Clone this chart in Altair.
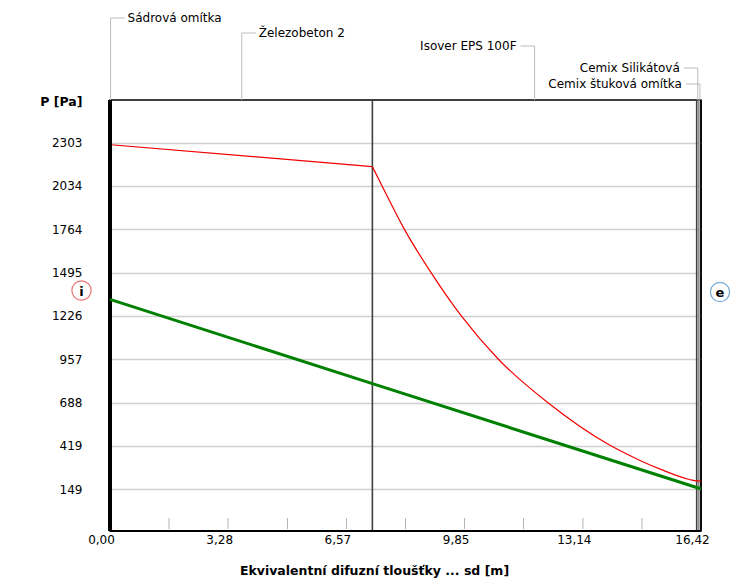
import altair as alt
import pandas as pd

# ---- data ----
sd_red = [0.00, 0.03, 7.29, 7.56, 8.18, 8.92, 9.76, 10.79, 12.16, 13.83, 14.71, 15.36, 16.10, 16.30, 16.42]
p_sat = [2306, 2290, 2154, 2034, 1764, 1495, 1226, 957, 688, 430, 330, 268, 210, 201, 200]

sd_green = [0.00, 7.29, 16.30, 16.42]
p_vap = [1329, 806, 160, 152]

layer_names = ["Sádrová omítka", "Železobeton 2", "Isover EPS 100F", "Cemix Silikátová", "Cemix štuková omítka"]
layer_start = [0.00, 0.03, 7.29, 16.30, 16.36]
layer_end = [0.03, 7.29, 16.30, 16.36, 16.42]
label_side = ["right", "right", "left", "left", "left"]

x_ticks = [0.0, 3.284, 6.568, 9.852, 13.136, 16.42]
x_minor = [1.64, 3.28, 4.93, 6.57, 8.21, 9.85, 11.49, 13.14, 14.78]
y_ticks = [149, 419, 688, 957, 1226, 1495, 1764, 2034, 2303]

# ---- layout (pixels) ----
W, H = 591, 431
label_row_px = [-82, -67, -54, -32, -16]
boundary_color = ["#000000", "#404040", "#404040", "#8c8c8c", "#000000"]

FONT = "DejaVu Sans"

xscale = alt.Scale(domain=[0, 16.42], nice=False, zero=False)
yscale = alt.Scale(domain=[-110, 2568], nice=False, zero=False)

red_df = pd.DataFrame({"sd": sd_red, "p": p_sat})
red_flat = red_df.iloc[:3]
red_curve = red_df.iloc[2:]
green_df = pd.DataFrame({"sd": sd_green, "p": p_vap})
lay_df = pd.DataFrame({
    "name": layer_names,
    "start": layer_start,
    "end": layer_end,
    "side": label_side,
    "row": label_row_px,
    "bcol": boundary_color,
})
lay_df["mid"] = (lay_df["start"] + lay_df["end"]) / 2
minor_df = pd.DataFrame({"t": x_minor})
ends_df = pd.DataFrame({"lbl": ["i", "e"], "px": [-28.5, 610], "py": [190.5, 192],
                        "col": ["#e03a3a", "#3f86c4"]})

x_axis = alt.Axis(
    values=x_ticks, grid=False, ticks=False, domain=False,
    labelExpr="replace(format(datum.value, '.2f'), '.', ',')",
    labelFont=FONT, labelFontSize=12, labelColor="#000", labelPadding=3,
    labelOffset=-9, labelOverlap=False, labelBound=False, labelFlush=False,
    title="Ekvivalentní difuzní tloušťky ... sd [m]",
    titleFont=FONT, titleFontSize=12.5, titleFontWeight="bold", titleColor="#000",
    titleX=264, titleY=39, titleAlign="center", titleBaseline="middle",
)
y_axis = alt.Axis(
    values=y_ticks, grid=True, gridColor="#d0d0d0", gridWidth=1.5,
    ticks=False, domain=False, format="d",
    labelFont=FONT, labelFontSize=12, labelColor="#000", labelPadding=28,
    labelOverlap=False, labelBound=False,
    title="P [Pa]", titleAngle=0, titleX=-28, titleY=1, titleAlign="right",
    titleBaseline="middle", titleFont=FONT, titleFontSize=12.5, titleFontWeight="bold",
    titleColor="#000",
)


def X(field):
    return alt.X(field, type="quantitative", scale=xscale, axis=x_axis)


def Y(field):
    return alt.Y(field, type="quantitative", scale=yscale, axis=y_axis)


red_a = alt.Chart(red_flat).mark_line(color="#f00000", strokeWidth=1.2).encode(
    x=X("sd"), y=Y("p"),
)
red_b = alt.Chart(red_curve).mark_line(color="#f00000", strokeWidth=1.2, interpolate="monotone").encode(
    x=X("sd"), y=Y("p"),
)

green = alt.Chart(green_df).mark_line(color="#008000", strokeWidth=3).encode(
    x=X("sd"), y=Y("p"),
)

boundaries = alt.Chart(lay_df).mark_rule(strokeWidth=1.6).encode(
    x=X("end"),
    y=alt.value(0), y2=alt.value(H),
    color=alt.Color("bcol:N", scale=None),
)

left_thick = alt.Chart(lay_df.head(1)).mark_rule(strokeWidth=4, color="#000").encode(
    x=X("start"),
    y=alt.value(0), y2=alt.value(H),
)

bottom_line = alt.Chart(lay_df.head(1)).mark_rule(strokeWidth=2, color="#000").encode(
    x=alt.value(0), x2=alt.value(W), y=alt.value(H),
)

minor = alt.Chart(minor_df).mark_rule(strokeWidth=1, color="#b4b4b4").encode(
    x=X("t"),
    y=alt.value(H - 13), y2=alt.value(H - 2),
)

leader_v = alt.Chart(lay_df).mark_rule(strokeWidth=1, color="#bdbdbd").encode(
    x=X("mid"),
    y=alt.Y("row:Q", scale=None), y2=alt.value(0),
)

right_df = lay_df[lay_df["side"] == "right"]
left_df = lay_df[lay_df["side"] == "left"]

leader_h_r = alt.Chart(right_df).mark_rule(strokeWidth=1, color="#bdbdbd", x2Offset=14).encode(
    x=X("mid"), x2="mid:Q",
    y=alt.Y("row:Q", scale=None),
)
leader_h_l = alt.Chart(left_df).mark_rule(strokeWidth=1, color="#bdbdbd", x2Offset=-14).encode(
    x=X("mid"), x2="mid:Q",
    y=alt.Y("row:Q", scale=None),
)

text_r = alt.Chart(right_df).mark_text(align="left", baseline="middle", dx=17,
                                       font=FONT, fontSize=12, color="#000").encode(
    x=X("mid"),
    y=alt.Y("row:Q", scale=None),
    text="name:N",
)
text_l = alt.Chart(left_df).mark_text(align="right", baseline="middle", dx=-18,
                                      font=FONT, fontSize=12, color="#000").encode(
    x=X("mid"),
    y=alt.Y("row:Q", scale=None),
    text="name:N",
)

end_circles = alt.Chart(ends_df).mark_point(shape="circle", filled=False, size=370, strokeWidth=1.2).encode(
    x=alt.X("px:Q", scale=None),
    y=alt.Y("py:Q", scale=None),
    color=alt.Color("col:N", scale=None),
)
end_text = alt.Chart(ends_df).mark_text(font=FONT, fontSize=13, fontWeight="bold",
                                        color="#000", baseline="middle", align="center", dy=1).encode(
    x=alt.X("px:Q", scale=None),
    y=alt.Y("py:Q", scale=None),
    text="lbl:N",
)

chart = alt.layer(
    red_a, minor, boundaries, left_thick, bottom_line, green, red_b,
    leader_v, leader_h_r, leader_h_l, text_r, text_l, end_circles, end_text,
).properties(
    width=W, height=H,
    autosize="none",
    padding={"left": 102, "top": 92, "right": 30, "bottom": 52},
    background="white",
).configure_view(
    stroke="#000", strokeWidth=1.5
)

chart.save("out.html", embed_options={"renderer": "svg", "actions": False})
